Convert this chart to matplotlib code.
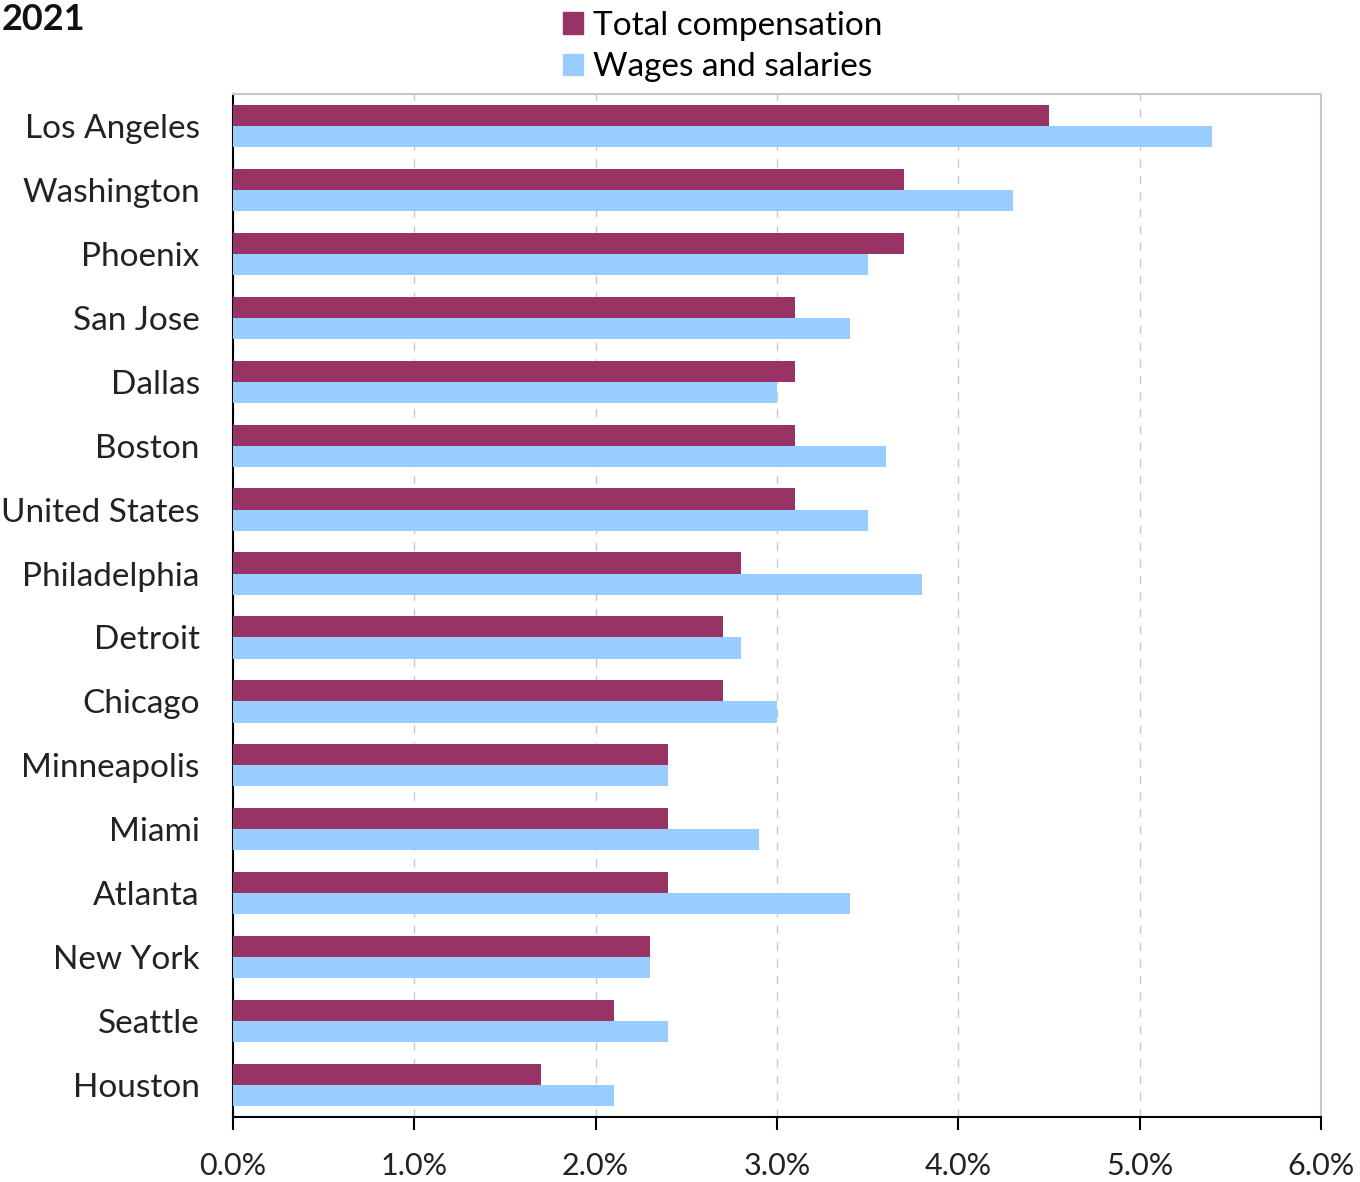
import matplotlib
matplotlib.use("Agg")
import matplotlib.pyplot as plt
from matplotlib.patches import Patch
import numpy as np

categories = ["Los Angeles", "Washington", "Phoenix", "San Jose", "Dallas", "Boston",
              "United States", "Philadelphia", "Detroit", "Chicago", "Minneapolis",
              "Miami", "Atlanta", "New York", "Seattle", "Houston"]
total_comp = [4.5, 3.7, 3.7, 3.1, 3.1, 3.1, 3.1, 2.8, 2.7, 2.7, 2.4, 2.4, 2.4, 2.3, 2.1, 1.7]
wages = [5.4, 4.3, 3.5, 3.4, 3.0, 3.6, 3.5, 3.8, 2.8, 3.0, 2.4, 2.9, 3.4, 2.3, 2.4, 2.1]
xticks = [0, 1, 2, 3, 4, 5, 6]
xticklabels = ["0.0%", "1.0%", "2.0%", "3.0%", "4.0%", "5.0%", "6.0%"]
series_names = ["Total compensation", "Wages and salaries"]
title = "2021"

plt.rcParams['font.family'] = ['Lato', 'DejaVu Sans']
c_total = "#993366"
c_wage = "#99CCFF"

fig = plt.figure(figsize=(13.6, 11.82), dpi=100)
ax = fig.add_axes([233/1360, 1-1117/1182, (1321-233)/1360, (1117-94)/1182])

n = len(categories)
y = np.arange(n)
h = 0.33
ax.barh(y - h/2, total_comp, height=h, color=c_total, zorder=3)
ax.barh(y + h/2, wages, height=h, color=c_wage, zorder=3)
ax.set_ylim(n - 0.5, -0.5)
ax.set_xlim(0, 6)
ax.set_yticks(y)
ax.set_yticklabels(categories, fontsize=24, color="#222222")
ax.tick_params(axis='y', length=0, pad=24)
ax.set_xticks(xticks)
ax.set_xticklabels(xticklabels, fontsize=22, color="#222222")
ax.tick_params(axis='x', length=9, width=1.5, direction='out', pad=16, color="black")
ax.xaxis.grid(True, linestyle=(0, (6, 6)), color="#c8c8c8", linewidth=1.0, zorder=0)
for s in ['top', 'right']:
    ax.spines[s].set_color("#c8c8c8")
    ax.spines[s].set_linewidth(1.5)
for s in ['left', 'bottom']:
    ax.spines[s].set_color("black")
    ax.spines[s].set_linewidth(1.5)

handles = [Patch(color=c_total), Patch(color=c_wage)]
fig.legend(handles, series_names, loc="upper left", bbox_to_anchor=(546/1360, 1.005),
           frameon=False, fontsize=24, handlelength=0.6, handleheight=0.6,
           handletextpad=0.3, labelspacing=0.35, borderaxespad=0.1)

fig.text(2/1360, 1-20/1182, title, fontsize=26, fontweight="bold", va="center", ha="left", color="#111111")

fig.savefig("out.png", dpi=100)
